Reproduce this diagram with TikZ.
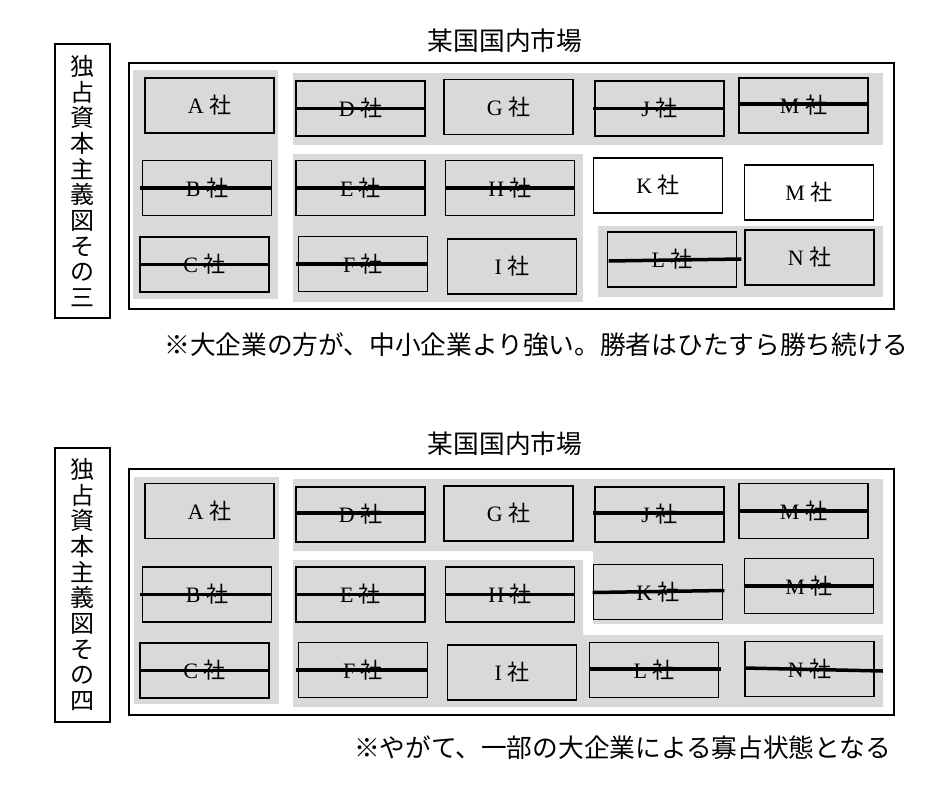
\documentclass[tikz,border=0pt]{standalone}
\usepackage{fontspec}
\setmainfont{Liberation Serif}
\newfontfamily\cjk{Noto Sans CJK JP}
\newcommand{\sha}[1]{\raisebox{-3pt}{#1 {\cjk 社}}}
\definecolor{regiongray}{HTML}{D9D9D9}
\tikzset{
  market/.style={draw, line width=2pt},
  region/.style={fill=regiongray},
  firm/.style={draw, line width=1.8pt, fill=regiongray, inner sep=0pt,
    minimum width=129pt, minimum height=55pt, font=\fontsize{22}{22}\selectfont},
  freefirm/.style={firm, fill=white},
  strike/.style={line width=3.5pt},
  vlabel/.style={draw, line width=2pt, align=center, inner sep=0pt,
    minimum width=55pt, minimum height=274pt, font=\cjk\fontsize{24}{25.7}\selectfont},
  heading/.style={inner sep=0pt, font=\cjk\fontsize{25.7}{30}\selectfont}
}
\begin{document}
\begin{tikzpicture}[x=1pt,y=-1pt]
    \useasboundingbox[fill=white] (0,0) rectangle (939,787);

    % その三
    \node[heading] (title3) at (505,41) {某国国内市場};
    \node[vlabel]  (v3) at (82.5,181) {独\\占\\資\\本\\主\\義\\図\\そ\\の\\三};
    \draw[market]  (129,63) rectangle (894,309);
    \fill[region]  (133,70) rectangle (278,299);
    \fill[region]  (293,73) rectangle (883,145);
    \fill[region]  (293,154) rectangle (583,302);
    \fill[region]  (598,226) rectangle (883,297);

    \node[firm]     (a3)  at (209.5,105.5) {\sha{A}};
    \node[firm]     (d3)  at (360.5,108.5) {\sha{D}};
    \node[firm]     (g3)  at (508.5,107)   {\sha{G}};
    \node[firm]     (j3)  at (659.5,108.5) {\sha{J}};
    \node[firm]     (m3)  at (803.5,105.5) {\sha{M}};
    \node[firm]     (b3)  at (207,188)     {\sha{B}};
    \node[firm]     (e3)  at (360.5,188)   {\sha{E}};
    \node[firm]     (h3)  at (510,188)     {\sha{H}};
    \node[freefirm] (k3)  at (658,185.5)   {\sha{K}};
    \node[freefirm] (mm3) at (809,192.5)   {\sha{M}};
    \node[firm]     (c3)  at (204.5,264.5) {\sha{C}};
    \node[firm]     (f3)  at (363,264)     {\sha{F}};
    \node[firm]     (i3)  at (512,266.5)   {\sha{I}};
    \node[firm]     (l3)  at (672,259.5)   {\sha{L}};
    \node[firm]     (n3)  at (809.5,257.5) {\sha{N}};

    \draw[strike] (d3.west) -- (d3.east);
    \draw[strike,shorten <=-1pt] (j3.west) -- (j3.east);
    \draw[strike] ([yshift=1.5pt]m3.west) -- ([yshift=1.5pt]m3.east);
    \draw[strike,shorten <=-2pt] (b3.west) -- (b3.east);
    \draw[strike] (e3.west) -- (e3.east);
    \draw[strike] (h3.west) -- (h3.east);
    \draw[strike] (c3.west) -- (c3.east);
    \draw[strike,shorten <=-2pt] (f3.west) -- (f3.east);
    \draw[strike] ([xshift=2pt,yshift=-1.5pt]l3.west) -- ([xshift=4pt,yshift=0.5pt]l3.east);

    \node[heading] (note3) at (536.5,345) {※大企業の方が、中小企業より強い。勝者はひたすら勝ち続ける};

    % その四
    \node[heading] (title4) at (505,444) {某国国内市場};
    \node[vlabel]  (v4) at (82.5,584.5) {独\\占\\資\\本\\主\\義\\図\\そ\\の\\四};
    \draw[market]  (129,469) rectangle (894,715);
    \fill[region]  (134,477) rectangle (279,704);
    \fill[region]  (293,479) -- (883,479) -- (883,624) -- (593,624) -- (593,551) -- (293,551) -- cycle;
    \fill[region]  (293,560) -- (583,560) -- (583,635) -- (883,635) -- (883,707) -- (293,707) -- cycle;

    \node[firm] (a4)  at (209.5,511)   {\sha{A}};
    \node[firm] (d4)  at (360.5,514.5) {\sha{D}};
    \node[firm] (g4)  at (508.5,513.5) {\sha{G}};
    \node[firm] (j4)  at (659.5,514.5) {\sha{J}};
    \node[firm] (m4)  at (803.5,511)   {\sha{M}};
    \node[firm] (b4)  at (207,594.5)   {\sha{B}};
    \node[firm] (e4)  at (360.5,594.5) {\sha{E}};
    \node[firm] (h4)  at (510,594.5)   {\sha{H}};
    \node[firm] (k4)  at (658,592)     {\sha{K}};
    \node[firm] (mm4) at (809,586)     {\sha{M}};
    \node[firm] (c4)  at (204.5,670.5) {\sha{C}};
    \node[firm] (f4)  at (363,670)     {\sha{F}};
    \node[firm] (i4)  at (512,672.5)   {\sha{I}};
    \node[firm] (l4)  at (654,670)     {\sha{L}};
    \node[firm] (n4)  at (809.5,669)   {\sha{N}};

    \draw[strike] ([yshift=1.5pt]d4.west) -- ([yshift=1.5pt]d4.east);
    \draw[strike,shorten <=-1pt] ([yshift=1.5pt]j4.west) -- ([yshift=1.5pt]j4.east);
    \draw[strike] (m4.west) -- (m4.east);
    \draw[strike,shorten <=-2pt] (b4.west) -- (b4.east);
    \draw[strike] (e4.west) -- (e4.east);
    \draw[strike] (h4.west) -- (h4.east);
    \draw[strike] ([yshift=-0.5pt]k4.west) -- ([xshift=1pt,yshift=1.5pt]k4.east);
    \draw[strike] (mm4.west) -- (mm4.east);
    \draw[strike] (c4.west) -- (c4.east);
    \draw[strike,shorten <=-2pt] (f4.west) -- (f4.east);
    \draw[strike] ([yshift=1pt]l4.west) -- ([xshift=2pt,yshift=1pt]l4.east);
    \draw[strike] ([yshift=1pt]n4.west) -- ([xshift=8pt,yshift=-2pt]n4.east);

    \node[heading] (note4) at (622.5,748) {※やがて、一部の大企業による寡占状態となる};
\end{tikzpicture}
\end{document}
